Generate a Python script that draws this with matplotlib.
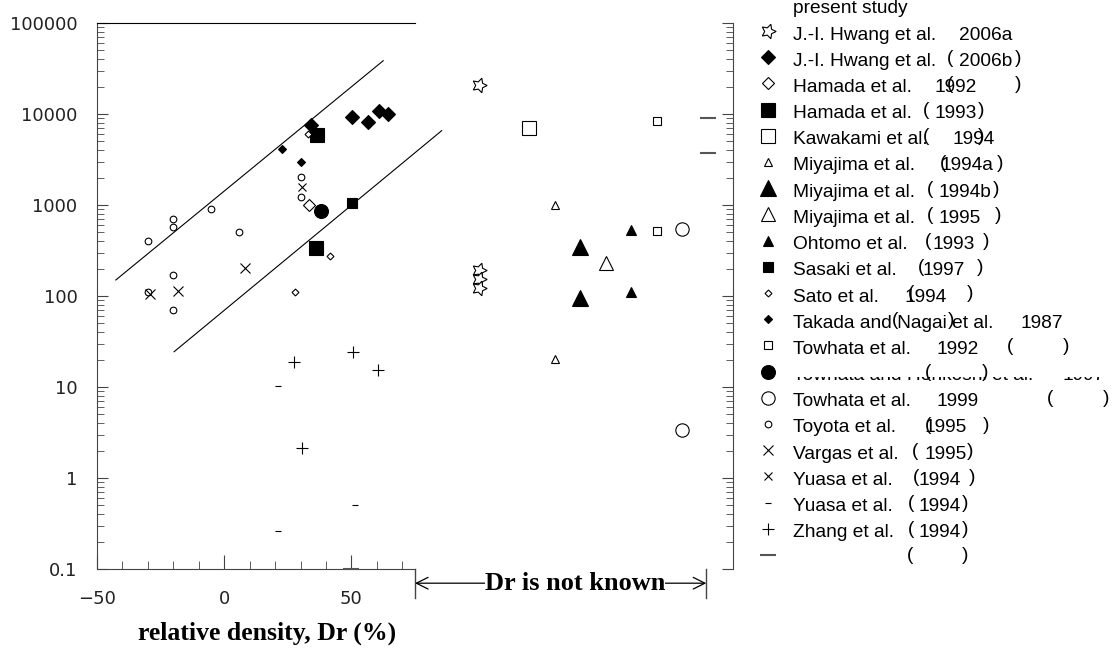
import matplotlib
matplotlib.use("Agg")
import matplotlib.pyplot as plt
from matplotlib.patches import Rectangle
from matplotlib.ticker import FixedLocator, LogLocator, FuncFormatter, NullFormatter

# ---- data (Dr in %, value on log axis) ----
hwang_a_x = [100, 100, 100, 100]
hwang_a_y = [20800, 193, 154, 122]
hwang_b_x = [34.0, 50.1, 56.4, 60.8, 64.3]
hwang_b_y = [7570, 9200, 8230, 10800, 10000]
hamada92_x = [33.5]
hamada92_y = [1000]
hamada93_x = [36.4, 36.1]
hamada93_y = [5880, 334]
kawakami_x = [120]
kawakami_y = [7080]
miya94a_x = [130, 130]
miya94a_y = [1000, 20.1]
miya94b_x = [140, 140]
miya94b_y = [348, 94.4]
miya95_x = [150]
miya95_y = [229]
ohtomo_x = [160, 160]
ohtomo_y = [531, 111]
sasaki_x = [50.1]
sasaki_y = [1044]
sato_x = [41.6, 27.7, 32.8]
sato_y = [277, 111, 5990]
takada_x = [22.6, 30.1]
takada_y = [4125, 2970]
towhata92_x = [170, 170]
towhata92_y = [8440, 517]
towhata97_x = [37.9]
towhata97_y = [860]
towhata99_x = [180, 180]
towhata99_y = [550, 3.37]
toyota_x = [-30, -20, -20, -5, 6, 30, 30, -20, -30, -20]
toyota_y = [405, 702, 569, 897, 505, 2016, 1224, 170, 111, 70]
vargas_x = [-29, -18, 8]
vargas_y = [105, 114, 201]
yuasa_x_x = [30.7]
yuasa_x_y = [1566]
yuasa_d_x = [21.3, 51.4, 21.3]
yuasa_d_y = [10.2, 0.505, 0.264]
zhang_x = [50.5, 27.6, 60.3, 30.5]
zhang_y = [24.4, 19, 15.4, 2.15]
dash_x = [190, 190, 50]
dash_y = [9100, 3760, 0.1]

upper_x = [-42.6, 62.5]
upper_y = [150, 38500]
lower_x = [-19.7, 85.5]
lower_y = [24.4, 6560]

names = ["J.-I. Hwang et al.", "J.-I. Hwang et al.", "Hamada et al.", "Hamada et al.",
         "Kawakami et al.", "Miyajima et al.", "Miyajima et al.", "Miyajima et al.",
         "Ohtomo et al.", "Sasaki et al.", "Sato et al.", "Takada and Nagai et al.",
         "Towhata et al.", "Towhata and Honkoshi et al.", "Towhata et al.", "Toyota et al.",
         "Vargas et al.", "Yuasa et al.", "Yuasa et al.", "Zhang et al.", ""]
years = ["2006a", "2006b", "1992", "1993", "1994", "1994a", "1994b", "1995", "1993",
         "1997", "1994", "1987", "1992", "1997", "1999", "1995", "1995", "1994",
         "1994", "1994", ""]

# (x, y, marker, size, filled)
series = [
    (hwang_a_x, hwang_a_y, (5, 1, -18), 11, False),
    (hwang_b_x, hwang_b_y, "D", 7, True),
    (hamada92_x, hamada92_y, "D", 6, False),
    (hamada93_x, hamada93_y, "s", 10, True),
    (kawakami_x, kawakami_y, "s", 10, False),
    (miya94a_x, miya94a_y, "^", 6, False),
    (miya94b_x, miya94b_y, "^", 11, True),
    (miya95_x, miya95_y, "^", 10, False),
    (ohtomo_x, ohtomo_y, "^", 7, True),
    (sasaki_x, sasaki_y, "s", 7.5, True),
    (sato_x, sato_y, "D", 3.5, False),
    (takada_x, takada_y, "D", 4, True),
    (towhata92_x, towhata92_y, "s", 6, False),
    (towhata97_x, towhata97_y, "o", 10, True),
    (towhata99_x, towhata99_y, "o", 9.6, False),
    (toyota_x, toyota_y, "o", 4.8, False),
    (vargas_x, vargas_y, "x", 7.5, False),
    (yuasa_x_x, yuasa_x_y, "x", 6, False),
    (yuasa_d_x, yuasa_d_y, "_", 4, False),
    (zhang_x, zhang_y, "+", 8.5, False),
    (dash_x, dash_y, "_", 11, False),
]

# legend layout (pixels in the 1119x649 figure)
year_px = [959, 959, 935, 935, 952, 940, 939, 939, 932, 922, 905, 1020,
           937, 1062, 937, 925, 925, 918, 918, 918, None]
lpar_px = [None, 947, 947, 923, 923, 940, 927, 927, 925, 918, 908, 892,
           1007, 925, 1047, 925, 912, 913, 908, 908, 907]
rpar_px = [None, 1015, 1015, 978, 978, 997, 993, 995, 983, 977, 967, 948,
           1063, 982, 1103, 983, 967, 969, 962, 962, 962]

W, H = 1119, 649
AX = "#444444"

fig = plt.figure(figsize=(W / 100, H / 100), dpi=100)
ax = fig.add_axes([97 / W, 1 - 569 / H, 636 / W, 546 / H])
ax.set_xlim(-50, 200)
ax.set_yscale("log")
ax.set_ylim(0.1, 1e5)

for side in ["left", "right", "bottom"]:
    ax.spines[side].set_color(AX)
ax.spines["top"].set_color("black")
ax.spines["bottom"].set_bounds(-50, 75)
ax.spines["top"].set_bounds(-50, 75)

ax.xaxis.set_major_locator(FixedLocator([-50, 0, 50]))
ax.xaxis.set_minor_locator(FixedLocator([-40, -30, -20, -10, 10, 20, 30, 40, 60, 70]))
ax.yaxis.set_major_locator(LogLocator(base=10))
ax.yaxis.set_minor_locator(LogLocator(base=10, subs=range(2, 10)))
ax.yaxis.set_major_formatter(FuncFormatter(lambda v, p: f"{v:g}"))
ax.yaxis.set_minor_formatter(NullFormatter())
ax.tick_params(axis="x", which="both", direction="in", top=False, colors=AX,
               labelcolor="#222222", labelsize=13, pad=15)
ax.tick_params(axis="x", which="major", length=10)
ax.tick_params(axis="x", which="minor", length=6)
ax.tick_params(axis="y", which="both", direction="in", left=True, right=True,
               colors=AX, labelcolor="#222222", labelsize=13, pad=14)
ax.tick_params(axis="y", which="major", length=8)
ax.tick_params(axis="y", which="minor", length=5)

ax.plot(upper_x, upper_y, color="black", lw=0.8)
ax.plot(lower_x, lower_y, color="black", lw=0.8)

for x, y, m, s, filled in series:
    col = "#555555" if m == "_" and s > 8 else "black"
    ax.plot(x, y, ls="none", marker=m, ms=s, mfc=col if filled else "white",
            mec=col, mew=1.5 if m == "_" and s > 8 else 0.8, clip_on=False, zorder=3)

# "Dr is not known" bracket below the axis
xt = ax.get_xaxis_transform()
for xb in [75, 189.5]:
    ax.plot([xb, xb], [0, -0.053], transform=xt, clip_on=False, color=AX, lw=1)
ax.annotate("", xy=(75, -0.026), xytext=(189.5, -0.026), xycoords=xt, textcoords=xt,
            arrowprops=dict(arrowstyle="<->,head_length=0.4,head_width=0.2",
                            mutation_scale=21, lw=0.9, color="black",
                            shrinkA=0, shrinkB=0))
ax.text(138, -0.026, "Dr is not known", transform=xt, ha="center", va="center",
        family="Liberation Serif", weight="bold", fontsize=19, zorder=5,
        bbox=dict(fc="white", ec="none", pad=0))

fig.text(267 / W, 1 - 633 / H, "relative density, Dr (%)", ha="center", va="center",
         family="Liberation Serif", weight="bold", fontsize=18.5)

# hand-placed legend
lax = fig.add_axes([0, 0, 1, 1])
lax.set_xlim(0, W)
lax.set_ylim(H, 0)
lax.axis("off")
lax.patch.set_visible(False)

font = dict(family="Liberation Sans", fontsize=13.8, va="center")
lax.text(793, 8.8, "present study", **font)
for i, (x, y, m, s, filled) in enumerate(series):
    ry = 35 + i * 26.2
    col = "#555555" if m == "_" and s > 8 else "black"
    lax.plot([768], [ry - 4], ls="none", marker=m, ms=s, mfc=col if filled else "white",
             mec=col, mew=1.5 if m == "_" and s > 8 else 0.8, zorder=4)
    lax.text(793, ry, names[i], zorder=2, **font)
    if year_px[i] is not None:
        lax.text(year_px[i], ry, years[i], zorder=2, **font)
    if i == 13:
        # the original shows only the lower slice of this entry
        lax.add_patch(Rectangle((785, ry - 14), W - 785, 15.5, fc="white",
                                ec="none", zorder=3))
    if lpar_px[i] is not None:
        lax.text(lpar_px[i], ry - 3, "(", zorder=5, **font)
        lax.text(rpar_px[i], ry - 3, ")", zorder=5, **font)

fig.savefig("out.png", dpi=100)
